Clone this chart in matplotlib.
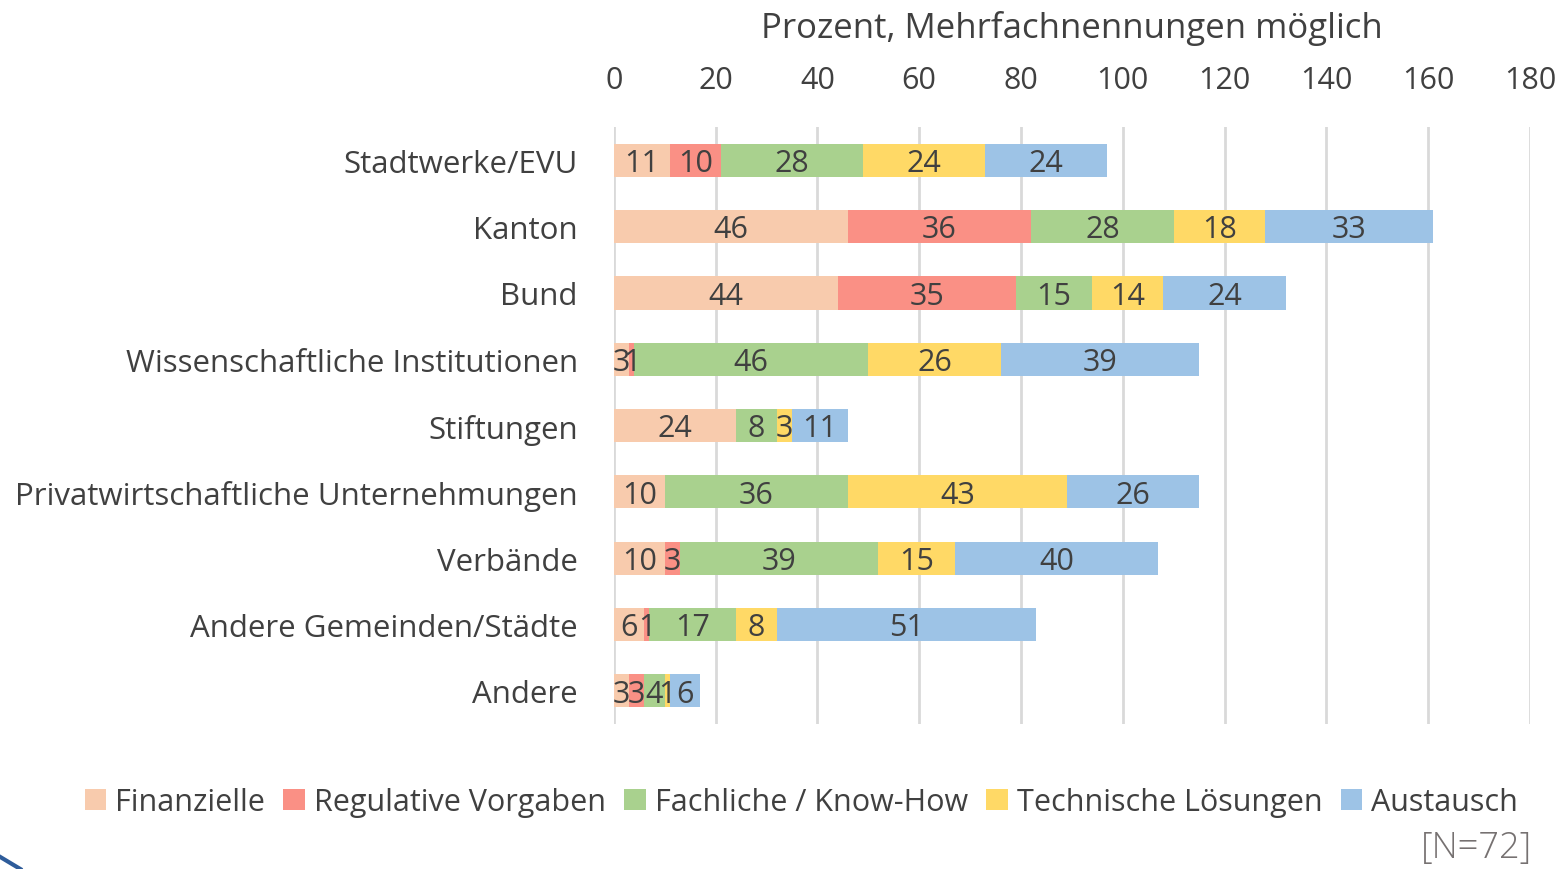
import matplotlib.pyplot as plt
from matplotlib.lines import Line2D

categories = ["Stadtwerke/EVU", "Kanton", "Bund", "Wissenschaftliche Institutionen",
              "Stiftungen", "Privatwirtschaftliche Unternehmungen", "Verbände",
              "Andere Gemeinden/Städte", "Andere"]
finanzielle = [11, 46, 44, 3, 24, 10, 10, 6, 3]
regulative = [10, 36, 35, 1, 0, 0, 3, 1, 3]
fachliche = [28, 28, 15, 46, 8, 36, 39, 17, 4]
technische = [24, 18, 14, 26, 3, 43, 15, 8, 1]
austausch = [24, 33, 24, 39, 11, 26, 40, 51, 6]

series_names = ["Finanzielle", "Regulative Vorgaben", "Fachliche / Know-How",
                "Technische Lösungen", "Austausch"]
colors = ["#F8CBAD", "#FA9085", "#A9D18E", "#FFD966", "#9DC3E6"]

plt.rcParams['font.family'] = ['Open Sans', 'DejaVu Sans']
txt = '#404040'
fs = 22

fig = plt.figure(figsize=(15.62, 8.7), dpi=100)
ax = fig.add_axes([0.393, 0.1667, 0.5864, 0.686])

y = list(range(len(categories)))
left = [0] * len(categories)
for name, vals, col in zip(series_names, [finanzielle, regulative, fachliche, technische, austausch], colors):
    bars = ax.barh(y, vals, left=left, height=0.5, color=col, label=name, zorder=2)
    labels = [str(v) if v > 0 else "" for v in vals]
    anns = ax.bar_label(bars, labels=labels, label_type='center', fontsize=fs,
                        color=txt, zorder=3)
    for a in anns:
        a.xyann = (0, -2)  # excel puts the numbers a touch lower
    left = [l + v for l, v in zip(left, vals)]

ax.set_xlim(0, 180)
ax.set_ylim(8.5, -0.5)
ax.set_xticks(range(0, 181, 20))
ax.xaxis.tick_top()
ax.xaxis.set_label_position('top')
ax.set_xlabel("Prozent, Mehrfachnennungen möglich", fontsize=25, color=txt, labelpad=20)
ax.tick_params(axis='x', length=0, labelsize=fs, labelcolor=txt, pad=23)
ax.set_yticks(y)
ax.set_yticklabels(categories)
ax.tick_params(axis='y', length=0, labelsize=22.5, labelcolor=txt, pad=26)
ax.grid(axis='x', color='#D9D9D9', linewidth=2, zorder=0)
for s in ax.spines.values():
    s.set_visible(False)

fig.legend(loc='center', bbox_to_anchor=(0.513, 0.077), ncol=5, frameon=False,
           fontsize=fs, labelcolor=txt, handlelength=0.7, handleheight=0.7,
           handletextpad=0.3, columnspacing=0.6)
fig.text(0.981, 0.025, "[N=72]", ha='right', va='center', fontsize=26,
         color='#767171', fontweight='light')
fig.add_artist(Line2D([0, 0.013], [0.014, 0], transform=fig.transFigure,
                      color='#2E5C9A', linewidth=3))

fig.savefig("out.png", dpi=100)
